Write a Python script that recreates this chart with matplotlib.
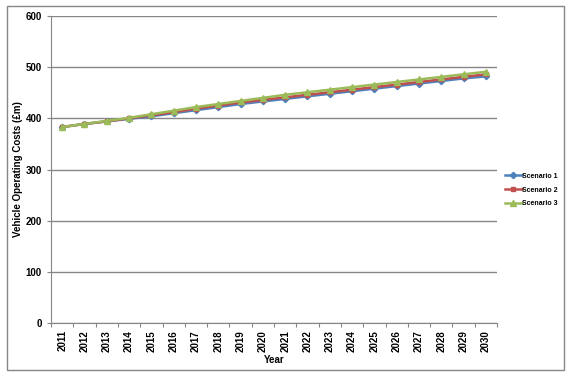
import numpy as np
import matplotlib
matplotlib.use("Agg")
import matplotlib.pyplot as plt
from matplotlib.patches import Rectangle

years = [str(y) for y in range(2011, 2031)]
scenario_1 = [383, 389, 394, 399, 404, 410, 416, 422, 428, 433, 438, 443, 448, 453, 458, 463, 468, 473, 478, 482]
scenario_2 = [383, 389, 394, 400, 406, 412, 419, 425, 431, 436, 441, 446, 451, 456, 461, 466, 471, 476, 481, 486]
scenario_3 = [383, 389, 395, 401, 408, 415, 422, 428, 434, 440, 446, 451, 456, 461, 466, 471, 476, 481, 486, 491]

plt.rcParams['font.family'] = ['Liberation Sans Narrow', 'Liberation Sans', 'DejaVu Sans']

fig = plt.figure(figsize=(5.72, 3.74), dpi=100)
ax = fig.add_axes([51/572, 51/374, 446/572, 307/374])

x = np.arange(len(years))
ax.plot(x, scenario_1, color='#4F81BD', marker='D', markersize=3.2, lw=1.8, label='Scenario 1')
ax.plot(x, scenario_2, color='#C0504D', marker='s', markersize=3.2, lw=1.8, label='Scenario 2')
ax.plot(x, scenario_3, color='#9BBB59', marker='^', markersize=4.2, lw=1.8, label='Scenario 3')

ax.set_xlim(-0.5, len(years) - 0.5)
ax.set_ylim(0, 600)
ax.set_yticks(range(0, 601, 100))
ax.yaxis.grid(True, color='#868686', lw=1)
ax.set_axisbelow(True)
for s in ['top', 'right']:
    ax.spines[s].set_visible(False)
for s in ['left', 'bottom']:
    ax.spines[s].set_color('#868686')

# tick marks between categories, labels at centres
ax.set_xticks(np.arange(-0.5, len(years)), labels=[''] * (len(years) + 1))
ax.set_xticks(x, labels=years, minor=True)
ax.tick_params(axis='x', which='major', length=3, color='#868686')
ax.tick_params(axis='x', which='minor', length=0, rotation=90, labelsize=7, pad=5)
ax.tick_params(axis='y', length=3, color='#868686', labelsize=7)
for lbl in ax.get_xticklabels(minor=True) + ax.get_yticklabels():
    lbl.set_fontweight('bold')

ax.set_xlabel('Year', fontsize=7, fontweight='bold', labelpad=2)
ax.set_ylabel('Vehicle Operating Costs (£m)', fontsize=7, fontweight='bold', labelpad=2)

ax.legend(loc='center left', bbox_to_anchor=(505/572, 184/374), bbox_transform=fig.transFigure,
          frameon=False, prop={'weight': 'bold', 'size': 5}, handlelength=2.4,
          labelspacing=0.95, handletextpad=0.1, borderpad=0, borderaxespad=0)

fig.add_artist(Rectangle((7/572, 4/374), 557/572, 364/374, transform=fig.transFigure,
                         fill=False, edgecolor='#868686', lw=1))

fig.savefig('out.png', dpi=100)
